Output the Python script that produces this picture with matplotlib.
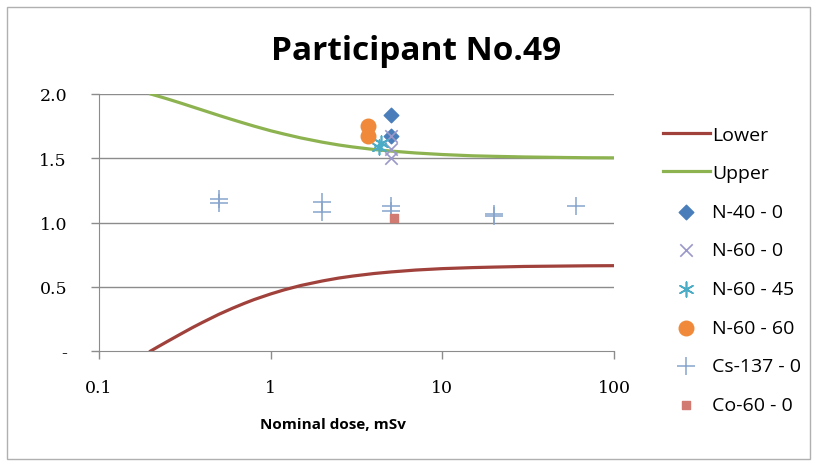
import numpy as np
import matplotlib
matplotlib.use('Agg')
import matplotlib.pyplot as plt
from matplotlib.patches import Rectangle

# trumpet curves
curve_x = [0.2, 0.22, 0.25, 0.3, 0.35, 0.4, 0.5, 0.6, 0.7, 0.8, 1, 1.2, 1.5, 2, 2.5,
           3, 4, 5, 7, 10, 15, 20, 30, 50, 70, 100]
lower_y = [0.0, 0.032, 0.074, 0.133, 0.182, 0.222, 0.286, 0.333, 0.370, 0.400, 0.444,
           0.476, 0.510, 0.545, 0.568, 0.583, 0.603, 0.615, 0.630, 0.641, 0.649, 0.653,
           0.658, 0.661, 0.663, 0.664]
upper_y = [2.0, 1.984, 1.962, 1.929, 1.900, 1.875, 1.833, 1.800, 1.773, 1.750, 1.714,
           1.688, 1.658, 1.625, 1.603, 1.588, 1.568, 1.556, 1.541, 1.529, 1.519, 1.515,
           1.510, 1.506, 1.504, 1.503]

# participant results
n40_0_x = [5, 5]
n40_0_y = [1.84, 1.67]
n60_0_x = [5, 5, 5]
n60_0_y = [1.67, 1.57, 1.50]
n60_45_x = [4.3, 4.4]
n60_45_y = [1.59, 1.62]
n60_60_x = [3.7, 3.7]
n60_60_y = [1.75, 1.67]
cs137_x = [0.5, 0.5, 2, 2, 5, 5, 20, 20, 60]
cs137_y = [1.18, 1.15, 1.16, 1.08, 1.13, 1.09, 1.07, 1.05, 1.13]
co60_x = [5.2]
co60_y = [1.035]

x_ticks = [0.1, 1, 10, 100]
x_ticklabels = ['0.1', '1', '10', '100']
y_ticks = [0, 0.5, 1.0, 1.5, 2.0]
y_ticklabels = ['-', '0.5', '1.0', '1.5', '2.0']

fig = plt.figure(figsize=(8.17, 4.64), dpi=100)
ax = fig.add_axes([99/817, 1-352/464, 515/817, 257/464])

# chart border
fig.patches.append(Rectangle((7/817, 4/464), 803/817, 452/464, transform=fig.transFigure,
                             fill=False, edgecolor='#b0b0b0', linewidth=1))

for yv in y_ticks[1:]:
    ax.axhline(yv, color='#8c8c8c', linewidth=1, zorder=0)

ax.plot(curve_x, lower_y, color='#a0413c', linewidth=2.3, label='Lower', zorder=2)
ax.plot(curve_x, upper_y, color='#8db350', linewidth=2.3, label='Upper', zorder=2)

ax.scatter(n40_0_x, n40_0_y, marker='D', s=55, color='#4a7ebb', label='N-40 - 0', zorder=3)
ax.scatter(n60_0_x, n60_0_y, marker='x', s=80, color='#9a98c8', linewidths=1.2, label='N-60 - 0', zorder=3)
ax.scatter(n60_45_x, n60_45_y, marker=(6, 2, 0), s=110, color='#4bacc6', linewidths=1.2, label='N-60 - 45', zorder=3)
ax.scatter(n60_60_x, n60_60_y, marker='o', s=110, color='#f08a3a', label='N-60 - 60', zorder=3)
ax.scatter(cs137_x, cs137_y, marker='+', s=160, color='#86a4cc', linewidths=1.1, label='Cs-137 - 0', zorder=3)
ax.scatter(co60_x, co60_y, marker='s', s=30, color='#d07a72', label='Co-60 - 0', zorder=3)

ax.set_xscale('log')
ax.set_xlim(0.1, 100)
ax.set_ylim(0, 2.0)
ax.set_xticks(x_ticks)
ax.set_xticklabels(x_ticklabels)
ax.minorticks_off()
ax.set_yticks(y_ticks)
ax.set_yticklabels(y_ticklabels)

for side in ['top', 'right']:
    ax.spines[side].set_visible(False)
for side in ['left', 'bottom']:
    ax.spines[side].set_color('#8c8c8c')
ax.tick_params(axis='both', direction='out', length=6, color='#8c8c8c', width=1,
               labelsize=12.5, pad=14)
ax.tick_params(axis='y', pad=17)
for lab in ax.get_xticklabels() + ax.get_yticklabels():
    lab.set_fontfamily('DejaVu Serif')

fig.text(416/817, 1-52/464, 'Participant No.49', ha='center', va='center',
         fontsize=24, fontweight='bold', family='Open Sans')
fig.text(333/817, 1-425/464, 'Nominal dose, mSv', ha='center', va='center',
         fontsize=11, fontweight='bold', family='Open Sans')

leg = ax.legend(loc='upper left', bbox_to_anchor=(1.061, 0.945), frameon=False,
                handlelength=2.4, handletextpad=0.12, labelspacing=1.06,
                scatterpoints=1, prop={'family': 'Open Sans', 'size': 14})

fig.savefig('out.png', dpi=100)
